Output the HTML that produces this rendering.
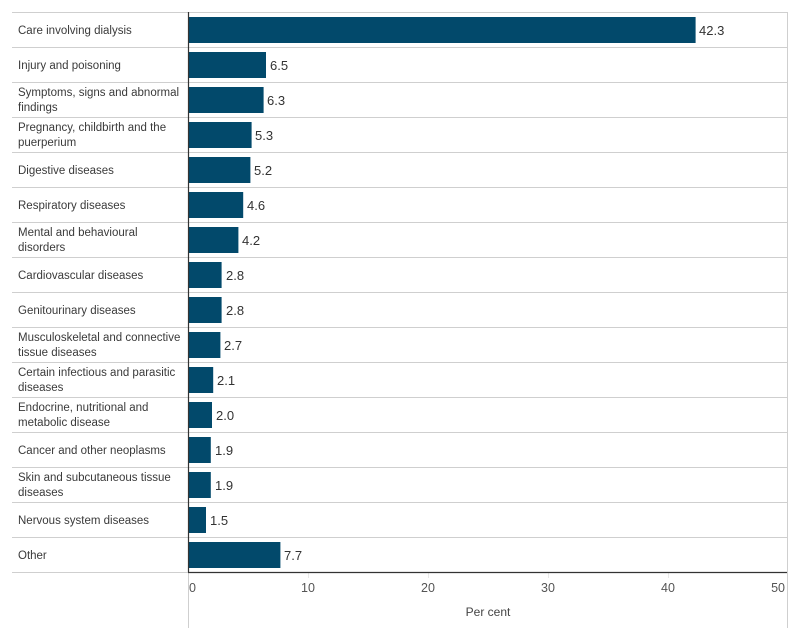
<!DOCTYPE html>
<html><head><meta charset="utf-8"><style>
html,body{margin:0;padding:0;background:#fff;}
svg{display:block;font-family:"Liberation Sans",sans-serif;}
.l{font-size:11.5px;fill:#3a3a3a;}
.v{font-size:13px;fill:#333;}
.t{font-size:12.5px;fill:#555;}
</style></head><body>
<svg width="800" height="640" viewBox="0 0 800 640" xmlns="http://www.w3.org/2000/svg">
<g stroke="#cfcfcf" stroke-width="1">
<line x1="12" y1="12.5" x2="787" y2="12.5"/>
<line x1="12" y1="47.5" x2="787" y2="47.5"/>
<line x1="12" y1="82.5" x2="787" y2="82.5"/>
<line x1="12" y1="117.5" x2="787" y2="117.5"/>
<line x1="12" y1="152.5" x2="787" y2="152.5"/>
<line x1="12" y1="187.5" x2="787" y2="187.5"/>
<line x1="12" y1="222.5" x2="787" y2="222.5"/>
<line x1="12" y1="257.5" x2="787" y2="257.5"/>
<line x1="12" y1="292.5" x2="787" y2="292.5"/>
<line x1="12" y1="327.5" x2="787" y2="327.5"/>
<line x1="12" y1="362.5" x2="787" y2="362.5"/>
<line x1="12" y1="397.5" x2="787" y2="397.5"/>
<line x1="12" y1="432.5" x2="787" y2="432.5"/>
<line x1="12" y1="467.5" x2="787" y2="467.5"/>
<line x1="12" y1="502.5" x2="787" y2="502.5"/>
<line x1="12" y1="537.5" x2="787" y2="537.5"/>
<line x1="12" y1="572.5" x2="188" y2="572.5"/>
<line x1="787.5" y1="12" x2="787.5" y2="628"/>
<line x1="188.5" y1="572" x2="188.5" y2="628"/>
</g>
<g stroke="#e8e8e8" stroke-width="1">
<line x1="308.5" y1="573" x2="308.5" y2="578"/>
<line x1="428.5" y1="573" x2="428.5" y2="578"/>
<line x1="548.5" y1="573" x2="548.5" y2="578"/>
<line x1="668.5" y1="573" x2="668.5" y2="578"/>
</g>
<g fill="#02496b">
<rect x="189" y="17" width="506.6" height="26"/>
<rect x="189" y="52" width="77" height="26"/>
<rect x="189" y="87" width="74.6" height="26"/>
<rect x="189" y="122" width="62.6" height="26"/>
<rect x="189" y="157" width="61.4" height="26"/>
<rect x="189" y="192" width="54.2" height="26"/>
<rect x="189" y="227" width="49.4" height="26"/>
<rect x="189" y="262" width="32.6" height="26"/>
<rect x="189" y="297" width="32.6" height="26"/>
<rect x="189" y="332" width="31.4" height="26"/>
<rect x="189" y="367" width="24.2" height="26"/>
<rect x="189" y="402" width="23" height="26"/>
<rect x="189" y="437" width="21.8" height="26"/>
<rect x="189" y="472" width="21.8" height="26"/>
<rect x="189" y="507" width="17" height="26"/>
<rect x="189" y="542" width="91.4" height="26"/>
</g>
<g stroke="#333" stroke-width="1.2">
<line x1="188.5" y1="12" x2="188.5" y2="572"/>
<line x1="188" y1="572.5" x2="787" y2="572.5"/>
</g>
<g class="l">
<text x="18" y="34">Care involving dialysis</text>
<text x="18" y="69">Injury and poisoning</text>
<text x="18" y="96">Symptoms, signs and abnormal</text>
<text x="18" y="111">findings</text>
<text x="18" y="131">Pregnancy, childbirth and the</text>
<text x="18" y="146">puerperium</text>
<text x="18" y="174">Digestive diseases</text>
<text x="18" y="209">Respiratory diseases</text>
<text x="18" y="236">Mental and behavioural</text>
<text x="18" y="251">disorders</text>
<text x="18" y="279">Cardiovascular diseases</text>
<text x="18" y="314">Genitourinary diseases</text>
<text x="18" y="341">Musculoskeletal and connective</text>
<text x="18" y="356">tissue diseases</text>
<text x="18" y="376">Certain infectious and parasitic</text>
<text x="18" y="391">diseases</text>
<text x="18" y="411">Endocrine, nutritional and</text>
<text x="18" y="426">metabolic disease</text>
<text x="18" y="454">Cancer and other neoplasms</text>
<text x="18" y="481">Skin and subcutaneous tissue</text>
<text x="18" y="496">diseases</text>
<text x="18" y="524">Nervous system diseases</text>
<text x="18" y="559">Other</text>
</g>
<g class="v">
<text x="699" y="35">42.3</text>
<text x="270" y="70">6.5</text>
<text x="267" y="105">6.3</text>
<text x="255" y="140">5.3</text>
<text x="254" y="175">5.2</text>
<text x="247" y="210">4.6</text>
<text x="242" y="245">4.2</text>
<text x="226" y="280">2.8</text>
<text x="226" y="315">2.8</text>
<text x="224" y="350">2.7</text>
<text x="217" y="385">2.1</text>
<text x="216" y="420">2.0</text>
<text x="215" y="455">1.9</text>
<text x="215" y="490">1.9</text>
<text x="210" y="525">1.5</text>
<text x="284" y="560">7.7</text>
</g>
<g class="t">
<text x="189" y="592">0</text>
<text x="308" y="592" text-anchor="middle">10</text>
<text x="428" y="592" text-anchor="middle">20</text>
<text x="548" y="592" text-anchor="middle">30</text>
<text x="668" y="592" text-anchor="middle">40</text>
<text x="785" y="592" text-anchor="end">50</text>
</g>
<text x="488" y="616" text-anchor="middle" style="font-size:12px;fill:#444;">Per cent</text>
</svg>
</body></html>
